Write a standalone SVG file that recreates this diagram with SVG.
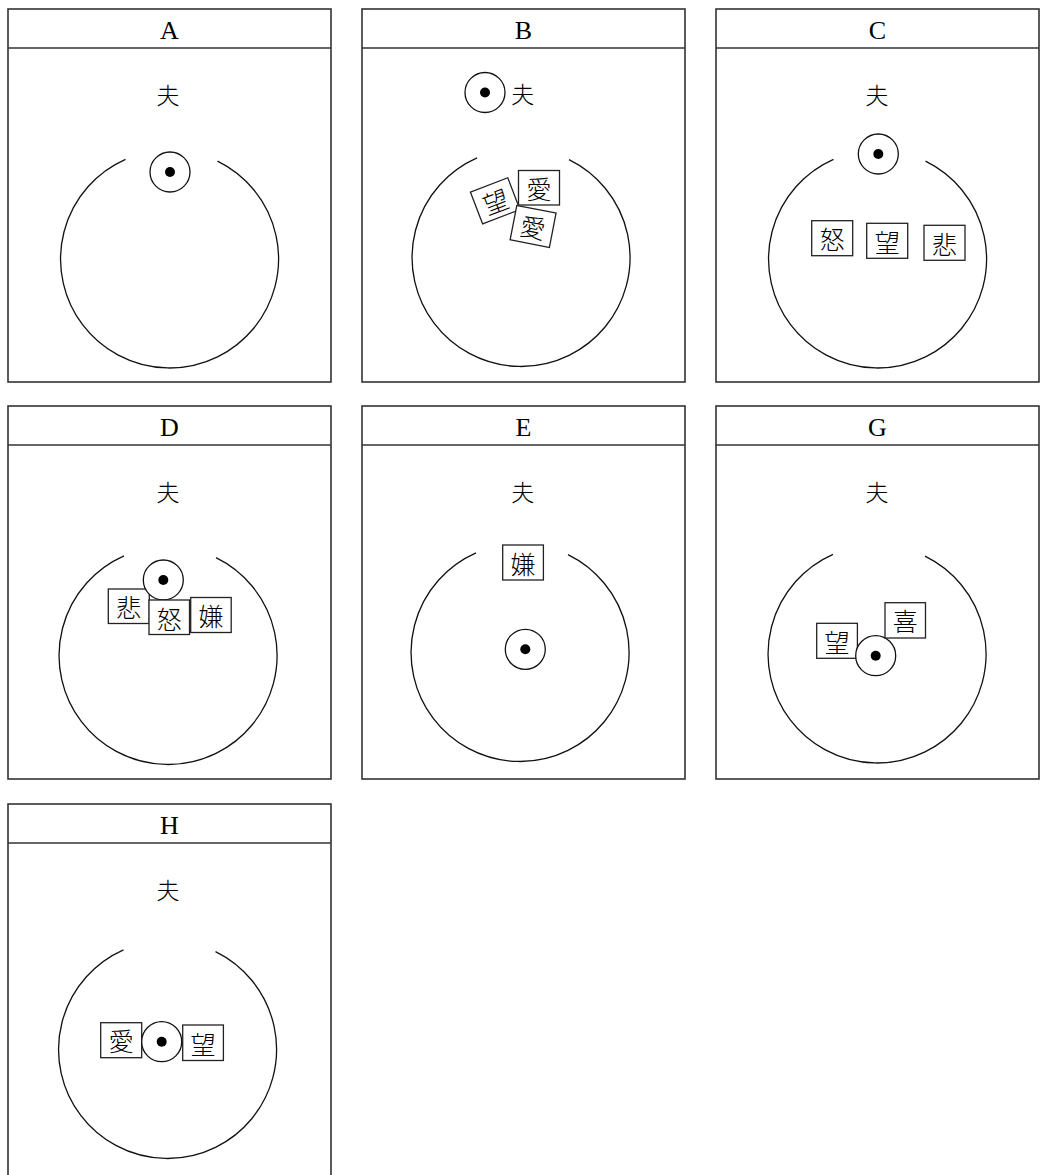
<svg xmlns="http://www.w3.org/2000/svg" xmlns:xlink="http://www.w3.org/1999/xlink" width="1043" height="1175" viewBox="0 0 1043 1175">
<style>
.panel{fill:#fff;stroke:#333;stroke-width:1.6}
.hdr{stroke:#333;stroke-width:1.6}
.ring{fill:none;stroke:#111;stroke-width:1.3}
.me{fill:#fff;stroke:#111;stroke-width:1.3}
.dot{fill:#000}
.box{fill:#fff;stroke:#222;stroke-width:1.3}
.lbl{font-family:"Liberation Serif",serif;font-size:26px;text-anchor:middle;fill:#000}
.cjk{font-family:"Noto Sans CJK JP",sans-serif;font-weight:300;text-anchor:middle;dominant-baseline:central;fill:#000}
.fu{font-size:23px}
.bx{font-size:25px}
</style>
<defs>
<g id="self"><circle class="me" cx="0" cy="0" r="20"/><circle class="dot" cx="0" cy="0" r="5"/></g>
</defs>
<rect width="1043" height="1175" fill="#fff"/>

<g id="panelA">
<rect class="panel" x="8" y="9" width="323" height="373"/>
<line class="hdr" x1="8" y1="48" x2="331" y2="48"/>
<text class="lbl" x="169.5" y="38.5">A</text>
<text class="cjk fu" x="168" y="93.5">夫</text>
<path class="ring" d="M125.5,159.3 A109,109 0 1 0 217.5,161.1"/>
<g id="A-self"><use xlink:href="#self" href="#self" x="170" y="172"/></g>
</g>

<g id="panelB">
<rect class="panel" x="362" y="9" width="323" height="373"/>
<line class="hdr" x1="362" y1="48" x2="685" y2="48"/>
<text class="lbl" x="523.5" y="38.5">B</text>
<g id="B-self"><use xlink:href="#self" href="#self" x="485" y="92.5"/></g>
<text class="cjk fu" x="522.7" y="93">夫</text>
<path class="ring" d="M477,157.8 A109,109 0 1 0 569,159.6"/>
<g id="B-ai1"><rect class="box" x="518.5" y="170.5" width="41" height="34.5"/><text class="cjk bx" x="539" y="188">愛</text></g>
<g id="B-nozomi" transform="translate(495.2,200.8) rotate(-21)"><rect class="box" x="-20" y="-17" width="40" height="34"/><text class="cjk bx" x="0" y="0">望</text></g>
<g id="B-ai2" transform="translate(533.1,226.4) rotate(11)"><rect class="box" x="-20" y="-17.5" width="40" height="35"/><text class="cjk bx" x="0" y="0">愛</text></g>
</g>

<g id="panelC">
<rect class="panel" x="716" y="9" width="323" height="373"/>
<line class="hdr" x1="716" y1="48" x2="1039" y2="48"/>
<text class="lbl" x="877.5" y="38.5">C</text>
<text class="cjk fu" x="877" y="93.5">夫</text>
<path class="ring" d="M833.5,159.3 A109,109 0 1 0 925.5,161.1"/>
<g id="C-self"><use xlink:href="#self" href="#self" x="878.3" y="154"/></g>
<g id="C-ikari"><rect class="box" x="811.7" y="220.7" width="41" height="35"/><text class="cjk bx" x="832.2" y="238.2">怒</text></g>
<g id="C-nozomi"><rect class="box" x="866.7" y="223.3" width="41" height="35"/><text class="cjk bx" x="887.2" y="240.8">望</text></g>
<g id="C-kanashi"><rect class="box" x="924" y="225.3" width="41" height="35"/><text class="cjk bx" x="944.5" y="242.8">悲</text></g>
</g>

<g id="panelD">
<rect class="panel" x="8" y="406" width="323" height="373"/>
<line class="hdr" x1="8" y1="445" x2="331" y2="445"/>
<text class="lbl" x="169.5" y="435.5">D</text>
<text class="cjk fu" x="168" y="490.5">夫</text>
<path class="ring" d="M124,555.8 A109,109 0 1 0 216,557.6"/>
<g id="D-kanashi"><rect class="box" x="108.3" y="589" width="41" height="34.5"/><text class="cjk bx" x="128.8" y="606.2">悲</text></g>
<g id="D-self"><use xlink:href="#self" href="#self" x="163.3" y="580"/></g>
<g id="D-ikari"><rect class="box" x="149" y="600" width="40.5" height="34.5"/><text class="cjk bx" x="169.2" y="617.5">怒</text></g>
<g id="D-ken"><rect class="box" x="190.7" y="597.5" width="40.5" height="35"/><text class="cjk bx" x="211" y="615">嫌</text></g>
</g>

<g id="panelE">
<rect class="panel" x="362" y="406" width="323" height="373"/>
<line class="hdr" x1="362" y1="445" x2="685" y2="445"/>
<text class="lbl" x="523.5" y="435.5">E</text>
<text class="cjk fu" x="522.7" y="490.5">夫</text>
<path class="ring" d="M476,552.8 A109,109 0 1 0 568,554.6"/>
<g id="E-ken"><rect class="box" x="502.7" y="545" width="40.7" height="35"/><text class="cjk bx" x="523" y="562.5">嫌</text></g>
<g id="E-self"><use xlink:href="#self" href="#self" x="525.3" y="649.3"/></g>
</g>

<g id="panelG">
<rect class="panel" x="716" y="406" width="323" height="373"/>
<line class="hdr" x1="716" y1="445" x2="1039" y2="445"/>
<text class="lbl" x="877.5" y="435.5">G</text>
<text class="cjk fu" x="877" y="490.5">夫</text>
<path class="ring" d="M833,554.3 A109,109 0 1 0 925,556.1"/>
<g id="G-nozomi"><rect class="box" x="816.7" y="623.3" width="40.7" height="35"/><text class="cjk bx" x="837" y="640.8">望</text></g>
<g id="G-self"><use xlink:href="#self" href="#self" x="875.7" y="655.7"/></g>
<g id="G-yorokobi"><rect class="box" x="885" y="602.7" width="40.5" height="35.3"/><text class="cjk bx" x="905.2" y="620.3">喜</text></g>
</g>

<g id="panelH">
<rect class="panel" x="8" y="804" width="323" height="373"/>
<line class="hdr" x1="8" y1="843" x2="331" y2="843"/>
<text class="lbl" x="169.5" y="833.5">H</text>
<text class="cjk fu" x="168" y="888.5">夫</text>
<path class="ring" d="M123.5,949.8 A109,109 0 1 0 215.5,951.6"/>
<g id="H-ai"><rect class="box" x="100.7" y="1022.7" width="41" height="35"/><text class="cjk bx" x="121.2" y="1040.2">愛</text></g>
<g id="H-self"><use xlink:href="#self" href="#self" x="161.7" y="1041.7"/></g>
<g id="H-nozomi"><rect class="box" x="182.7" y="1025" width="40.7" height="35.5"/><text class="cjk bx" x="203" y="1042.7">望</text></g>
</g>

<g id="connectors"/>
</svg>
